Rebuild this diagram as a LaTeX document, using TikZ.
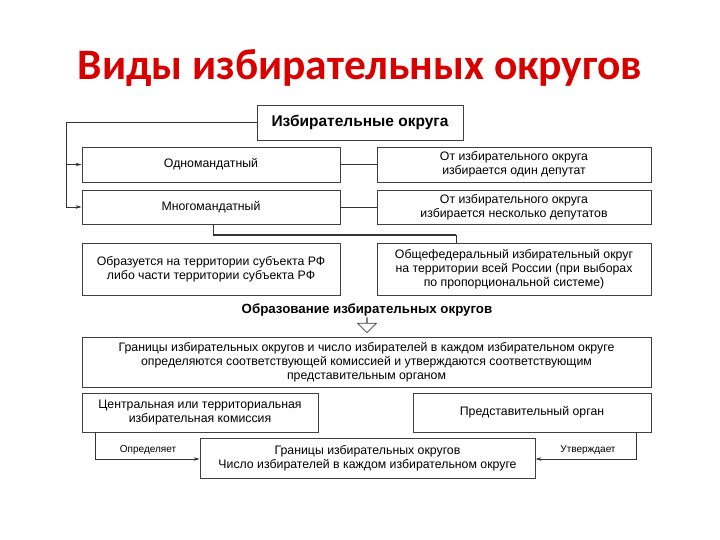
\documentclass[tikz,border=0pt]{standalone}
\usepackage{fontspec}
\setmainfont{Liberation Sans}
\newfontfamily\titlefont{Carlito}
\usetikzlibrary{arrows.meta,shapes.arrows}
\begin{document}
\begin{tikzpicture}[x=1pt,y=-1pt,
  box/.style={draw=black!75,line width=0.8pt,align=center,inner sep=0pt,font=\fontsize{12.3}{14}\selectfont},
  conn/.style={draw=black!80,line width=0.8pt},
  arr/.style={conn,-{Stealth[length=6pt,width=3.5pt]}},
  lbl/.style={font=\fontsize{10}{11}\selectfont,inner sep=1pt}]
\useasboundingbox (0,0) rectangle (720,540);
\node[font=\titlefont\fontsize{43.5}{48}\selectfont\bfseries,text=red!85!black] (title) at (360,68) {Виды избирательных округов};
\node[box,minimum width=206pt,minimum height=35pt,font=\fontsize{15.5}{17}\selectfont\bfseries] (top) at (360,122.5) {Избирательные округа};
\node[box,minimum width=258pt,minimum height=35pt] (odn) at (211,164.5) {Одномандатный};
\node[box,minimum width=274pt,minimum height=35pt] (r1) at (514,164.5) {От избирательного округа\\избирается один депутат};
\node[box,minimum width=258pt,minimum height=34pt] (mno) at (211,207) {Многомандатный};
\node[box,minimum width=274pt,minimum height=34pt] (r2) at (514,207) {От избирательного округа\\избирается несколько депутатов};
\node[box,minimum width=258pt,minimum height=52pt] (sub) at (211,269) {Образуется на территории субъекта РФ\\либо части территории субъекта РФ};
\node[box,minimum width=274pt,minimum height=52pt] (fed) at (514,269) {Общефедеральный избирательный округ\\на территории всей России (при выборах\\по пропорциональной системе)};
\node[font=\fontsize{13.3}{15}\selectfont\bfseries] (obr) at (367,310) {Образование избирательных округов};
\node[single arrow,shape border rotate=270,draw=black!75,line width=0.7pt,fill=white,minimum height=15pt,single arrow head extend=9pt,minimum width=18pt,inner sep=0pt] (hol) at (367,325) {};
\node[box,minimum width=569pt,minimum height=50pt] (big) at (366.5,362) {Границы избирательных округов и число избирателей в каждом избирательном округе\\определяются соответствующей комиссией и утверждаются соответствующим\\представительным органом};
\node[box,minimum width=236pt,minimum height=39pt] (cik) at (200,412.5) {Центральная или территориальная\\избирательная комиссия};
\node[box,minimum width=238pt,minimum height=39pt] (rep) at (532,412.5) {Представительный орган};
\node[box,minimum width=335pt,minimum height=40pt] (res) at (367.5,458) {Границы избирательных округов\\Число избирателей в каждом избирательном округе};
\coordinate (lt) at (66,122.5);
\draw[conn] (top.west) -- (lt) -- (66,207);
\draw[arr] (66,164.5) -- (odn.west);
\draw[arr] (66,207) -- (mno.west);
\draw[conn] (odn.east) -- (r1.west);
\draw[conn] (mno.east) -- (r2.west);
\draw[conn] (213,224) -- (213,235);
\draw[conn,line width=2.2pt] (213,235) -- (456,235);
\draw[conn] (456,235) -- (456,243);
\draw[arr] (95,432) -- (95,459) -- (res.west |- 0,459);
\draw[arr] (636,432) -- (636,459) -- (res.east |- 0,459);
\node[lbl] (l1) at (148,450) {Определяет};
\node[lbl] (l2) at (588,450) {Утверждает};
\end{tikzpicture}
\end{document}
